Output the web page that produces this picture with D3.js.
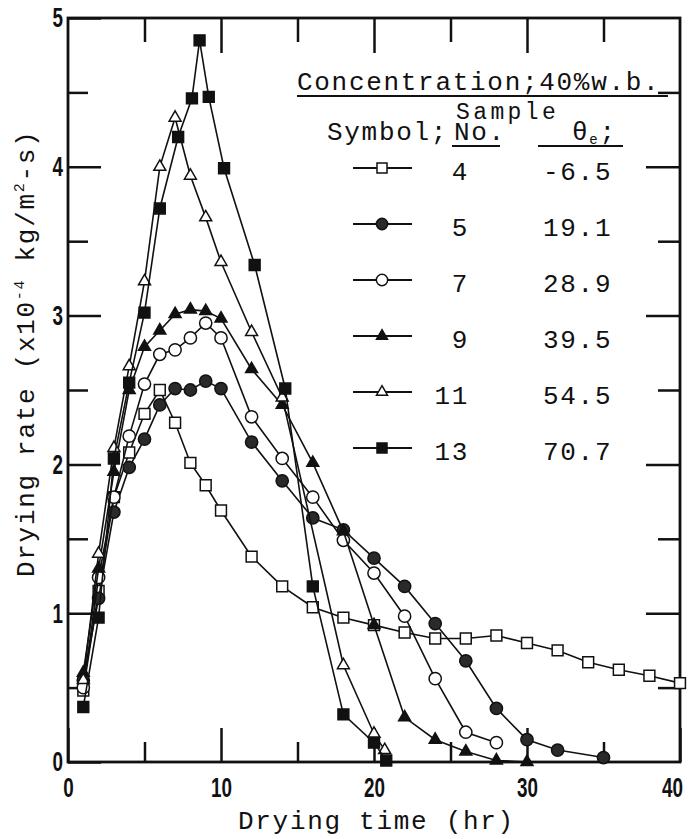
<!DOCTYPE html>
<html>
<head>
<meta charset="utf-8">
<style>
body { margin: 0; background: #fff; }
svg { display: block; }
.axis path { display: none; }
.axis line { stroke: #111; stroke-width: 2.5; }
.num text { font-family: "Liberation Sans Narrow", "Liberation Sans", sans-serif; font-weight: bold; font-size: 28px; fill: #111; }
.mono { font-family: "Liberation Mono", "DejaVu Sans Mono", monospace; font-size: 26px; letter-spacing: 1.7px; fill: #111; }
.curve { fill: none; stroke: #111; stroke-width: 1.6; }
.rule { stroke: #111; stroke-width: 2; }
</style>
<script src="https://cdn.jsdelivr.net/npm/d3@7"></script>
</head>
<body>
<svg width="692" height="839"></svg>
<script>
// drying time (hr) and drying rate (x10^-4 kg/m2-s)
var t4  = [1, 2, 3, 4, 5, 6, 7, 8, 9, 10, 12, 14, 16, 18, 20, 22, 24, 26, 28, 30, 32, 34, 36, 38, 40];
var r4  = [0.48, 1.15, 1.78, 2.08, 2.34, 2.5, 2.28, 2.01, 1.86, 1.69, 1.38, 1.18, 1.04, 0.97, 0.92, 0.87, 0.83, 0.83, 0.85, 0.8, 0.75, 0.67, 0.62, 0.58, 0.53];
var t5  = [1, 2, 3, 4, 5, 6, 7, 8, 9, 10, 12, 14, 16, 18, 20, 22, 24, 26, 28, 30, 32, 35];
var r5  = [0.55, 1.1, 1.68, 1.98, 2.17, 2.4, 2.51, 2.5, 2.56, 2.51, 2.15, 1.89, 1.64, 1.56, 1.37, 1.18, 0.93, 0.68, 0.36, 0.15, 0.08, 0.03];
var t7  = [1, 2, 3, 4, 5, 6, 7, 8, 9, 10, 12, 14, 16, 18, 20, 22, 24, 26, 28];
var r7  = [0.5, 1.24, 1.78, 2.19, 2.54, 2.74, 2.77, 2.85, 2.95, 2.85, 2.32, 2.04, 1.78, 1.49, 1.27, 0.98, 0.56, 0.2, 0.13];
var t9  = [1, 2, 3, 4, 5, 6, 7, 8, 9, 10, 12, 14, 16, 18, 20, 22, 24, 26, 28, 30];
var r9  = [0.6, 1.3, 1.95, 2.5, 2.79, 2.9, 3.01, 3.04, 3.03, 2.98, 2.64, 2.4, 2.01, 1.55, 0.92, 0.3, 0.15, 0.07, 0.01, 0];
var t11 = [1, 2, 3, 4, 5, 6, 7, 8, 9, 10, 12, 14, 18, 20, 20.7];
var r11 = [0.55, 1.4, 2.11, 2.66, 3.23, 4.0, 4.33, 3.94, 3.66, 3.36, 2.89, 2.45, 0.65, 0.19, 0.08];
var t13 = [1, 2, 3, 4, 5, 6, 7.2, 8.1, 8.6, 9.2, 10.2, 12.2, 14.2, 16, 18, 20, 20.8];
var r13 = [0.37, 0.97, 2.04, 2.55, 3.02, 3.72, 4.2, 4.46, 4.85, 4.47, 3.99, 3.34, 2.51, 1.18, 0.32, 0.13, 0.01];

var sampleNo = ["4", "5", "7", "9", "11", "13"];
var thetaE = ["-6.5", "19.1", "28.9", "39.5", "54.5", "70.7"];
var xTicks = [0, 10, 20, 30, 40];
var xMinor = [5, 15, 25, 35];
var yTicks = [0, 1, 2, 3, 4, 5];
var yMinor = [0.5, 1.5, 2.5, 3.5, 4.5];

var series = [
  {t: t4,  r: r4,  type: d3.symbolSquare,   size: 118, fill: "#fff"},
  {t: t5,  r: r5,  type: d3.symbolCircle,   size: 118, fill: "#2a2a2a"},
  {t: t7,  r: r7,  type: d3.symbolCircle,   size: 118, fill: "#fff"},
  {t: t9,  r: r9,  type: d3.symbolTriangle, size: 62,  fill: "#111"},
  {t: t11, r: r11, type: d3.symbolTriangle, size: 62,  fill: "#fff"},
  {t: t13, r: r13, type: d3.symbolSquare,   size: 118, fill: "#111"}
];

var svg = d3.select("svg");
var x = d3.scaleLinear().domain([0, 40]).range([68, 680]);
var y = d3.scaleLinear().domain([0, 5]).range([762, 18]);
var fmt = d3.format("d");

function addAxis(axis, tx, ty, cls) {
  return svg.append("g").attr("class", "axis " + (cls || ""))
    .attr("transform", "translate(" + tx + "," + ty + ")").call(axis);
}
function squeeze(g) {
  g.selectAll("text")
    .attr("textLength", function(d) { return fmt(d).length * 10.5; })
    .attr("lengthAdjust", "spacingAndGlyphs");
  return g;
}

// ticks all point inward
squeeze(addAxis(d3.axisLeft(y).tickValues(yTicks).tickFormat(fmt).tickSizeInner(-33).tickSizeOuter(0).tickPadding(5), 68, 0, "num"));
addAxis(d3.axisLeft(y).tickValues(yMinor).tickSizeInner(-20).tickSizeOuter(0).tickFormat(""), 68, 0);
addAxis(d3.axisRight(y).tickValues([1, 2, 3, 4]).tickSizeInner(-34).tickSizeOuter(0).tickFormat(""), 680, 0);
addAxis(d3.axisRight(y).tickValues(yMinor).tickSizeInner(-22).tickSizeOuter(0).tickFormat(""), 680, 0);
var bottom = squeeze(addAxis(d3.axisBottom(x).tickValues(xTicks).tickFormat(fmt).tickSizeInner(-34).tickSizeOuter(0).tickPadding(15), 0, 762, "num"));
bottom.selectAll("text").filter(function(d) { return d === 40; }).attr("dx", -8);
addAxis(d3.axisBottom(x).tickValues(xMinor).tickSizeInner(-20).tickSizeOuter(0).tickFormat(""), 0, 762);
addAxis(d3.axisTop(x).tickValues([10, 20, 30]).tickSizeInner(-35).tickSizeOuter(0).tickFormat(""), 0, 18);
addAxis(d3.axisTop(x).tickValues(xMinor).tickSizeInner(-24).tickSizeOuter(0).tickFormat(""), 0, 18);

svg.append("rect")
  .attr("x", x(0)).attr("y", y(5))
  .attr("width", x(40) - x(0)).attr("height", y(0) - y(5))
  .attr("fill", "none").attr("stroke", "#111").attr("stroke-width", 2.8);

var line = d3.line().x(function(d) { return x(d[0]); }).y(function(d) { return y(d[1]); });

series.forEach(function(s) {
  var pts = s.t.map(function(t, i) { return [t, s.r[i]]; });
  svg.append("path").attr("class", "curve").attr("d", line(pts));
  svg.append("g").selectAll("path")
    .data(pts)
    .enter()
    .append("path")
    .attr("d", d3.symbol().type(s.type).size(s.size))
    .attr("transform", function(d) { return "translate(" + x(d[0]) + "," + y(d[1]) + ")"; })
    .attr("fill", s.fill)
    .attr("stroke", "#111")
    .attr("stroke-width", 1.5);
});

// legend
svg.append("text").attr("class", "mono").attr("x", 297).attr("y", 90).text("Concentration;40%w.b.");
svg.append("line").attr("class", "rule").attr("x1", 297).attr("x2", 668).attr("y1", 96).attr("y2", 96);
svg.append("text").attr("class", "mono").attr("x", 456).attr("y", 119)
  .style("font-size", "23px").style("letter-spacing", "3.4px").text("Sample");
svg.append("text").attr("class", "mono").attr("x", 327).attr("y", 140).text("Symbol;");
svg.append("text").attr("class", "mono").attr("x", 454).attr("y", 140).text("No.");
svg.append("line").attr("class", "rule").attr("x1", 452).attr("x2", 500).attr("y1", 146).attr("y2", 146);
var th = svg.append("text").attr("class", "mono").attr("x", 572).attr("y", 140);
th.append("tspan").text("θ");
th.append("tspan").attr("font-size", 14).attr("dy", 4).text("e");
th.append("tspan").attr("dy", -4).text(";");
svg.append("line").attr("class", "rule").attr("x1", 538).attr("x2", 623).attr("y1", 146).attr("y2", 146);

series.forEach(function(s, i) {
  var ly = 168 + i * 56;
  svg.append("line").attr("x1", 353).attr("x2", 412).attr("y1", ly).attr("y2", ly)
    .attr("stroke", "#111").attr("stroke-width", 1.8);
  svg.append("path")
    .attr("d", d3.symbol().type(s.type).size(s.size * 0.85))
    .attr("transform", "translate(382," + ly + ")")
    .attr("fill", s.fill).attr("stroke", "#111").attr("stroke-width", 1.5);
  svg.append("text").attr("class", "mono").attr("x", 469).attr("y", ly + 12)
    .attr("text-anchor", "end").text(sampleNo[i]);
  svg.append("text").attr("class", "mono").attr("x", 543).attr("y", ly + 12).text(thetaE[i]);
});

// axis titles
svg.append("text").attr("class", "mono").attr("x", 238).attr("y", 829).text("Drying time (hr)");
var yt = svg.append("text").attr("class", "mono").attr("transform", "translate(34,577) rotate(-90)");
yt.append("tspan").text("Drying rate (x10");
yt.append("tspan").attr("font-size", 15).attr("dy", -10).text("-4");
yt.append("tspan").attr("dy", 10).text(" kg/m");
yt.append("tspan").attr("font-size", 15).attr("dy", -10).text("2");
yt.append("tspan").attr("dy", 10).text("-s)");
</script>
</body>
</html>
